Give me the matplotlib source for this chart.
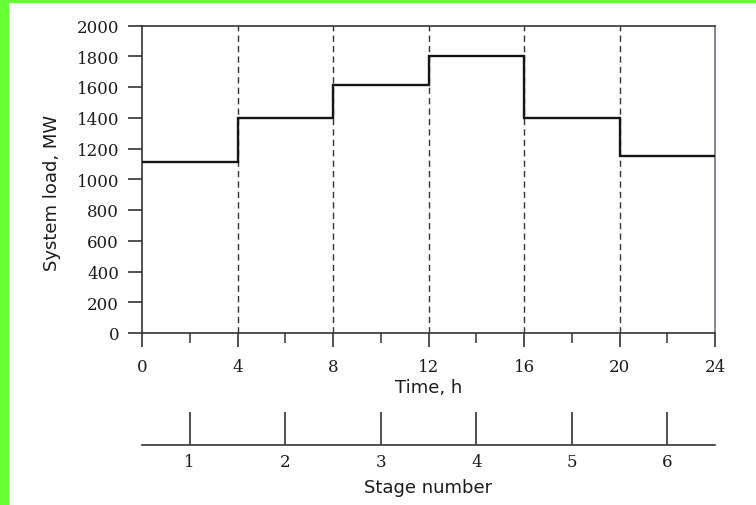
import numpy as np
import matplotlib
matplotlib.use("Agg")
import matplotlib.pyplot as plt
from matplotlib.patches import Rectangle

# stage boundaries (h) and load in each stage (MW)
edges = [0, 4, 8, 12, 16, 20, 24]
loads = [1110, 1400, 1610, 1800, 1400, 1150]
stages = [1, 2, 3, 4, 5, 6]
y_ticks = [0, 200, 400, 600, 800, 1000, 1200, 1400, 1600, 1800, 2000]

W, H = 756, 506
fig = plt.figure(figsize=(W / 100, H / 100), dpi=100)
fig.patch.set_facecolor("white")

# green frame of the original screenshot
green = "#66ff33"
fig.patches.append(Rectangle((0, 0), 8 / W, 1, transform=fig.transFigure,
                             color=green, zorder=10))
fig.patches.append(Rectangle((0, 1 - 3 / H), 1, 3 / H, transform=fig.transFigure,
                             color=green, zorder=10))

serif = "DejaVu Serif"
ink = "#1c1c1c"

left, right = 142 / W, 715 / W
ax = fig.add_axes([left, 1 - 334 / H, right - left, (334 - 26.5) / H])
ax.stairs(loads, edges, color="#151515", lw=1.7, baseline=None, zorder=3)
ax.vlines(edges[1:-1], 0, 2000, colors="#333333", lw=1.0,
          linestyles=(0, (4.5, 3)), zorder=2)
ax.set_xlim(0, 24)
ax.set_ylim(0, 2000)
ax.set_xticks(edges)
ax.set_xticks([2, 6, 10, 14, 18, 22], minor=True)
ax.set_yticks(y_ticks)
for s in ax.spines.values():
    s.set_color("#333333")
    s.set_linewidth(1.2)
ax.spines["right"].set_color("#6f6f88")
ax.tick_params(axis="x", which="major", direction="out", length=10, width=1.2,
               pad=8, color="#333333", labelsize=12, labelcolor=ink)
ax.tick_params(axis="x", which="minor", direction="out", length=7, width=1.1,
               color="#333333")
ax.tick_params(axis="y", direction="out", length=10, width=1.2, pad=6.5,
               color="#333333", labelsize=12, labelcolor=ink)
for lab in ax.get_xticklabels() + ax.get_yticklabels():
    lab.set_family(serif)

ax.set_xlabel("Time, h", fontsize=13, color=ink)
ax.xaxis.set_label_coords(0.5, -0.176)
ax.xaxis.label.set_verticalalignment("center")
ax.set_ylabel("System load, MW", fontsize=13, color=ink)
ax.yaxis.set_label_coords(-0.157, 0.46)
ax.yaxis.label.set_verticalalignment("center")

# stage-number scale under the time axis
sax = fig.add_axes([left, 1 - 446 / H, right - left, 40.5 / H])
sax.set_xlim(0, 24)
sax.set_ylim(0, 1)
sax.patch.set_alpha(0)
for side in ["left", "right", "top"]:
    sax.spines[side].set_visible(False)
sax.spines["bottom"].set_color("#333333")
sax.spines["bottom"].set_linewidth(1.2)
sax.set_yticks([])
sax.set_xticks([2 + 4 * (n - 1) for n in stages])
sax.set_xticklabels([str(n) for n in stages])
sax.tick_params(axis="x", direction="in", length=24, width=1.2, pad=6,
                color="#333333", labelsize=12, labelcolor=ink)
for lab in sax.get_xticklabels():
    lab.set_family(serif)
sax.set_xlabel("Stage number", fontsize=13, color=ink)
sax.xaxis.set_label_coords(0.5, -1.04)
sax.xaxis.label.set_verticalalignment("center")

fig.savefig("out.png", dpi=100, facecolor=fig.get_facecolor())
